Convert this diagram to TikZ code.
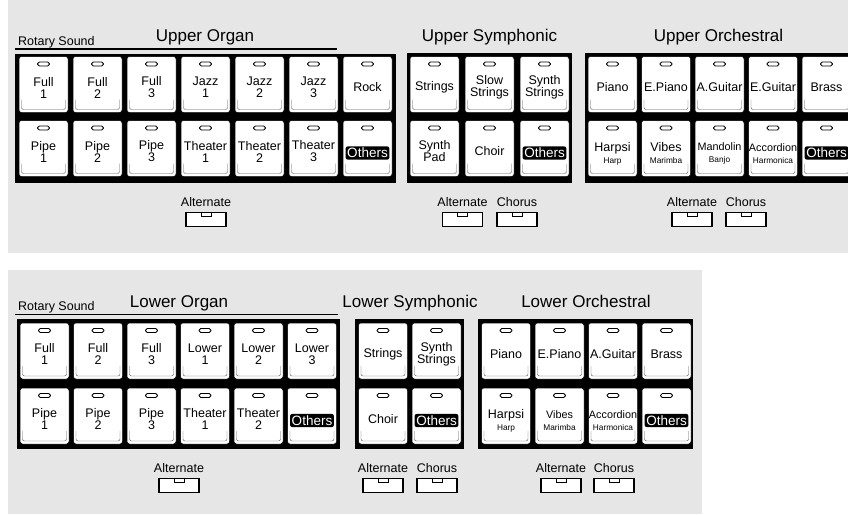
\documentclass[tikz,border=0pt]{standalone}
\usepackage{fontspec}
\setmainfont{Liberation Sans}
\usetikzlibrary{positioning}
\definecolor{paperGray}{RGB}{230,230,230}
\definecolor{bevelGray}{RGB}{90,90,90}

\tikzset{
  panel/.style={fill=black},
  key/.style={draw=black, fill=white, line width=0.5pt, rounded corners=2.5pt,
    minimum width=49pt, minimum height=56pt, inner sep=0pt, outer sep=0pt},
  led/.style={draw=black, fill=white, line width=0.8pt, rounded corners=1.8pt},
  bevel/.style={draw=bevelGray, line width=0.45pt, rounded corners=2pt},
  keytext/.style={align=center, inner sep=0pt, font=\fontsize{12.5}{12}\selectfont},
  others/.style={fill=black, text=white, rounded corners=2pt, inner sep=1.6pt,
    font=\fontsize{13.5}{13.5}\selectfont},
  tabsw/.style={draw=black, fill=white, line width=1.6pt, minimum width=40pt,
    minimum height=14pt, inner sep=0pt, outer sep=0pt},
  notch/.style={draw=black, fill=white, line width=0.6pt},
  tablab/.style={inner sep=0.5pt, font=\fontsize{12.5}{12.5}\selectfont},
  title/.style={anchor=base, inner sep=0pt, font=\fontsize{17}{18}\selectfont},
  rotary/.style={anchor=base west, inner sep=0pt, font=\fontsize{12.5}{12.5}\selectfont},
  rotline/.style={line width=1.6pt}
}

\newcommand{\lowtxt}[1]{{\fontsize{8.3}{9}\selectfont #1}}
\newcommand{\smtxt}[1]{{\fontsize{10.8}{12}\selectfont #1}}

% one key: body, lamp and the lip at the bottom
\newcommand{\padbody}[3]{%
  \node[key, anchor=north west] (#1) at (#2,#3) {};
  \draw[led] ([xshift=-6pt,yshift=-5.5pt]#1.north) rectangle ([xshift=6pt,yshift=-9.5pt]#1.north);
  \draw[bevel] ([xshift=2.5pt,yshift=13pt]#1.south west) -- ([xshift=2.5pt,yshift=3pt]#1.south west)
    -- ([xshift=-2.5pt,yshift=3pt]#1.south east) -- ([xshift=-2.5pt,yshift=13pt]#1.south east);
}
\newcommand{\pad}[5][3]{\padbody{#2}{#3}{#4}\node[keytext] (#2-t) at ([yshift=-#1pt]#2.center) {#5};}
\newcommand{\otherpad}[3]{\padbody{#1}{#2}{#3}\node[others] (#1-t) at ([yshift=-4.5pt]#1.center) {Others};}
\newcommand{\tabkey}[4]{%
  \node[tabsw] (#1) at (#2,#3) {};
  \draw[notch] ([xshift=-5pt]#1.north) rectangle ([xshift=5pt,yshift=-4pt]#1.north);
  \node[tablab, above=5pt of #1] (#1-t) {#4};
}

\begin{document}
\begin{tikzpicture}[x=1pt,y=-1pt]
\useasboundingbox (0,0) rectangle (848,514);
\fill[paperGray] (8,0) rectangle (848,253);
\fill[paperGray] (8,270) rectangle (702,514);

% upper manual
\node[rotary] (rsu) at (18,45) {Rotary Sound};
\draw[rotline] (15,49) -- (337,49);
\node[title] (uo-title) at (205,41.5) {Upper Organ};
\node[title] (us-title) at (489.5,41) {Upper Symphonic};
\node[title] (ur-title) at (718.5,41) {Upper Orchestral};

\fill[panel] (15,53.5) rectangle (396,182.5);
\foreach \lab [count=\i from 0] in {{Full\\1},{Full\\2},{Full\\3},{Jazz\\1},{Jazz\\2},{Jazz\\3},{Rock}}
  {\pad{uoa\i}{19+54*\i}{56.5}{\lab}}
\foreach \lab [count=\i from 0] in {{Pipe\\1},{Pipe\\2},{Pipe\\3},{Theater\\1},{Theater\\2},{Theater\\3}}
  {\pad{uob\i}{19+54*\i}{120.5}{\lab}}
\otherpad{uob6}{343}{120.5}

\fill[panel] (406.5,53) rectangle (572,182.5);
\foreach \lab [count=\i from 0] in {{Strings},{Slow\\Strings},{Synth\\Strings}}
  {\pad{usa\i}{410+55*\i}{56.5}{\lab}}
\foreach \lab [count=\i from 0] in {{Synth\\Pad},{Choir}}
  {\pad{usb\i}{410+55*\i}{120.5}{\lab}}
\otherpad{usb2}{520}{120.5}

\fill[panel] (585,53) rectangle (870,182.5);
\foreach \lab [count=\i from 0] in {{Piano},{E.Piano},{A.Guitar},{E.Guitar},{Brass}}
  {\pad{ura\i}{588+53.5*\i}{56.5}{\lab}}
\foreach \lab [count=\i from 0] in {{Harpsi\\\lowtxt{Harp}},{Vibes\\\lowtxt{Marimba}},{\smtxt{Mandolin}\\\lowtxt{Banjo}},{\smtxt{Accordion}\\\lowtxt{Harmonica}}}
  {\pad[5]{urb\i}{588+53.5*\i}{120.5}{\lab}}
\otherpad{urb4}{802}{120.5}

\tabkey{uo-alt}{206}{219.5}{Alternate}
\tabkey{us-alt}{462.5}{219.5}{Alternate}
\tabkey{us-cho}{517}{219.5}{Chorus}
\tabkey{ur-alt}{692}{219.5}{Alternate}
\tabkey{ur-cho}{746}{219.5}{Chorus}

% lower manual
\node[rotary] (rsl) at (18,310) {Rotary Sound};
\draw[rotline] (15,314.5) -- (338,314.5);
\node[title] (lo-title) at (179,307) {Lower Organ};
\node[title] (ls-title) at (410,307) {Lower Symphonic};
\node[title] (lr-title) at (586,307) {Lower Orchestral};

\fill[panel] (16.5,319) rectangle (340,449);
\foreach \lab [count=\i from 0] in {{Full\\1},{Full\\2},{Full\\3},{Lower\\1},{Lower\\2},{Lower\\3}}
  {\pad{loa\i}{20+53.5*\i}{323}{\lab}}
\foreach \lab [count=\i from 0] in {{Pipe\\1},{Pipe\\2},{Pipe\\3},{Theater\\1},{Theater\\2}}
  {\pad{lob\i}{20+53.5*\i}{388}{\lab}}
\otherpad{lob5}{287.5}{388}

\fill[panel] (355,319) rectangle (463.5,449);
\foreach \lab [count=\i from 0] in {{Strings},{Synth\\Strings}}
  {\pad{lsa\i}{358.5+53.5*\i}{323}{\lab}}
\pad{lsb0}{358.5}{388}{Choir}
\otherpad{lsb1}{412}{388}

\fill[panel] (478,319) rectangle (693,449);
\foreach \lab [count=\i from 0] in {{Piano},{E.Piano},{A.Guitar},{Brass}}
  {\pad{lra\i}{481.5+53.5*\i}{323}{\lab}}
\foreach \lab [count=\i from 0] in {{Harpsi\\\lowtxt{Harp}},{\smtxt{Vibes}\\\lowtxt{Marimba}},{\smtxt{Accordion}\\\lowtxt{Harmonica}}}
  {\pad[5]{lrb\i}{481.5+53.5*\i}{388}{\lab}}
\otherpad{lrb3}{642}{388}

\tabkey{lo-alt}{179}{485.5}{Alternate}
\tabkey{ls-alt}{383}{485.5}{Alternate}
\tabkey{ls-cho}{437}{485.5}{Chorus}
\tabkey{lr-alt}{561}{485.5}{Alternate}
\tabkey{lr-cho}{614}{485.5}{Chorus}
\end{tikzpicture}
\end{document}
